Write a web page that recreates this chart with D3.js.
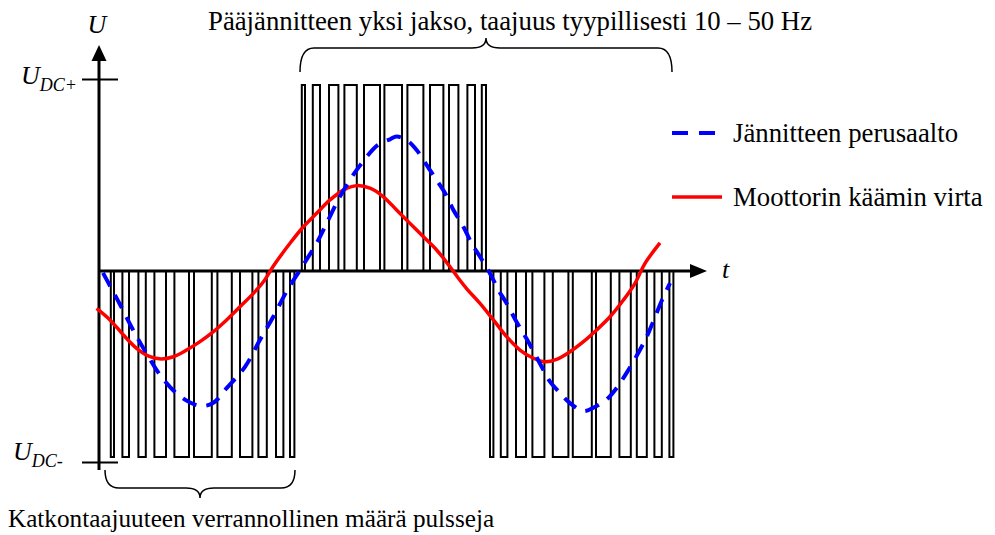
<!DOCTYPE html>
<html>
<head>
<meta charset="utf-8">
<script src="https://cdn.jsdelivr.net/npm/d3@7"></script>
<style>
  html, body { margin: 0; padding: 0; background: #fff; }
  svg { display: block; }
  text { font-family: "Liberation Serif", "Times New Roman", serif; fill: #000; }
</style>
</head>
<body>
<svg id="chart" width="995" height="535"></svg>
<script>
// Time in ms, voltage in % of U_DC.

// PWM pulses: switch-on time, switch-off time and level (+1 = U_DC+, -1 = U_DC-)
const pulseOn = [
  0.54, 1.12, 1.92, 2.72, 3.72, 4.70, 5.87, 7.00, 7.92, 8.80, 9.50,
  10.09, 10.64, 11.45, 12.22, 13.20, 14.22, 15.37, 16.50, 17.45, 18.37, 19.09,
  19.50, 20.04, 20.80, 21.62, 22.64, 23.64, 24.80, 25.97, 26.84, 27.72, 28.47
];
const pulseOff = [
  0.70, 1.45, 2.29, 3.30, 4.45, 5.59, 6.59, 7.62, 8.34, 9.17, 9.72,
  10.25, 11.00, 11.92, 12.84, 14.00, 15.10, 16.17, 17.17, 17.92, 18.75, 19.30,
  19.67, 20.37, 21.30, 22.22, 23.42, 24.59, 25.54, 26.54, 27.34, 28.09, 28.67
];
const pulseLevel = [
  -1, -1, -1, -1, -1, -1, -1, -1, -1, -1, -1,
   1,  1,  1,  1,  1,  1,  1,  1,  1,  1,  1,
  -1, -1, -1, -1, -1, -1, -1, -1, -1, -1, -1
];

// Fundamental of the voltage (blue, dashed)
const fundT = [0.15, 0.6, 1.0, 1.67, 2.25, 3.08, 4.08, 5.0, 5.65, 6.33, 7.25, 8.0, 8.67, 9.33, 10.0,
  10.42, 10.83, 11.33, 12.0, 12.92, 13.92, 14.5, 14.83, 15.33, 15.83, 16.33, 16.83, 17.25, 17.67,
  18.17, 18.58, 19.0, 19.5, 19.92, 20.33, 20.83, 21.33, 22.17, 22.5, 23.0, 23.5, 24.17, 24.67,
  25.33, 25.83, 26.33, 26.83, 27.33, 27.67, 28.08, 28.5];
const fundU = [-1, -10, -18, -32, -43, -57, -68, -72.5, -71, -63, -51.5, -37, -24.5, -11, 0.5,
  7.7, 14.9, 25.6, 40, 55.6, 68, 70.8, 72.3, 70.4, 65.1, 57, 48.9, 41.9, 32.8,
  23.8, 14.9, 7.7, -1.3, -10.2, -17.4, -27.4, -36.4, -53.2, -59.5, -65.6, -71, -75.3, -73.5,
  -69.1, -62.9, -54.8, -45.7, -35.5, -26.9, -16.1, -6.5];

// Motor winding current (red)
const currT = [-0.17, 0.5, 1.17, 1.83, 2.5, 3.08, 3.67, 4.33, 5.0, 5.67, 6.33, 7.0, 7.67, 8.17, 8.67,
  9.5, 10.17, 10.83, 11.5, 12.17, 12.83, 13.5, 14.17, 14.83, 15.5, 16.17, 16.83, 17.5, 17.92,
  18.35, 19.0, 19.67, 20.33, 21.0, 21.67, 22.25, 22.83, 23.5, 24.17, 24.83, 25.5, 26.17, 26.75,
  27.25, 28.0];
const currI = [-20.1, -26.3, -34.4, -41.6, -46.1, -47.3, -46.1, -42.5, -38.0, -32.6, -26.3, -19.2, -12.0, -5.8, 2.7,
  14.9, 23.8, 31.0, 38.2, 43.5, 45.9, 44.5, 39.9, 32.8, 25.6, 18.4, 11.3, 2.3, -3.9,
  -9.7, -17.4, -26.3, -35.3, -42.5, -46.9, -48.8, -47.5, -43.4, -38.0, -31.7, -24.6, -15.6, -6.6,
  4.1, 15.1];

// Voltage levels marked on the U axis
const levelValues = [103, -103];
const levelNames = ["DC+", "DC-"];

// Legend entries
const legendNames = ["Jännitteen perusaalto", "Moottorin käämin virta"];
const legendColors = ["#0000ff", "#ff0000"];

// Braces: time ranges they span
const braceTop = [10.0, 28.6];
const braceBottom = [0.25, 9.75];

const titleText = "Pääjännitteen yksi jakso, taajuus tyypillisesti 10 – 50 Hz";
const bottomText = "Katkontaajuuteen verrannollinen määrä pulsseja";

const svg = d3.select("#chart");
const x = d3.scaleLinear().domain([0, 31]).range([100, 720]);
const y = d3.scaleLinear().domain([-100, 100]).range([457, 85]);

const x0 = x(0) - 1, y0 = y(0);

// Axes with arrow heads
svg.append("line").attr("x1", x0).attr("x2", x0).attr("y1", 470).attr("y2", 58)
  .attr("stroke", "#000").attr("stroke-width", 3);
svg.append("path").attr("d", `M${x0},45 L${x0 - 7.5},61 L${x0 + 7.5},61 Z`).attr("fill", "#000");
svg.append("line").attr("x1", x0).attr("x2", 692).attr("y1", y0).attr("y2", y0)
  .attr("stroke", "#000").attr("stroke-width", 3);
svg.append("path").attr("d", `M707,${y0} L690,${y0 - 7} L690,${y0 + 7} Z`).attr("fill", "#000");

// Level ticks and labels
levelValues.forEach((v, i) => {
  const yy = y(v);
  svg.append("line").attr("x1", 82).attr("x2", 118).attr("y1", yy).attr("y2", yy)
    .attr("stroke", "#000").attr("stroke-width", 2);
  const t = svg.append("text").attr("x", i === 0 ? 21 : 13).attr("y", yy + (i === 0 ? 5 : -3))
    .style("font-style", "italic").style("font-size", "26px");
  t.append("tspan").text("U");
  t.append("tspan").attr("dy", 7).style("font-size", "18px").text(levelNames[i]);
});

// Axis names
svg.append("text").attr("x", 97).attr("y", 33).attr("text-anchor", "middle")
  .style("font-style", "italic").style("font-size", "26px").text("U");
svg.append("text").attr("x", 722).attr("y", 278)
  .style("font-style", "italic").style("font-size", "26px").text("t");

// PWM waveform as one stepped path
let d = `M${x(0)},${y0}`;
pulseOn.forEach((on, i) => {
  const lv = y(pulseLevel[i] * 100);
  d += `L${x(on)},${y0}L${x(on)},${lv}L${x(pulseOff[i])},${lv}L${x(pulseOff[i])},${y0}`;
});
svg.append("path").attr("d", d).attr("fill", "none").attr("stroke", "#000")
  .attr("stroke-width", 2).attr("stroke-linejoin", "miter");

// Current and fundamental curves
const line = d3.line().x(p => x(p[0])).y(p => y(p[1])).curve(d3.curveCatmullRom);
svg.append("path").attr("d", line(currT.map((t, i) => [t, currI[i]])))
  .attr("fill", "none").attr("stroke", legendColors[1]).attr("stroke-width", 3.5);
svg.append("path").attr("d", line(fundT.map((t, i) => [t, fundU[i]])))
  .attr("fill", "none").attr("stroke", legendColors[0]).attr("stroke-width", 4)
  .attr("stroke-dasharray", "15,10");

// Curly brace between xa and xb, tip pointing up (dir=-1) or down (dir=1)
function brace(xa, xb, yEdge, depth, dir) {
  const xm = (xa + xb) / 2, r = 14;
  const yMid = yEdge + dir * (depth - 10);
  const yTip = yEdge + dir * depth;
  return `M${xa},${yEdge} Q${xa},${yMid} ${xa + r},${yMid} L${xm - r},${yMid} Q${xm},${yMid} ${xm},${yTip}` +
         ` Q${xm},${yMid} ${xm + r},${yMid} L${xb - r},${yMid} Q${xb},${yMid} ${xb},${yEdge}`;
}
svg.append("path").attr("d", brace(x(braceTop[0]), x(braceTop[1]), 72, 34, -1))
  .attr("fill", "none").attr("stroke", "#000").attr("stroke-width", 1.5);
svg.append("path").attr("d", brace(x(braceBottom[0]), x(braceBottom[1]), 470, 28, 1))
  .attr("fill", "none").attr("stroke", "#000").attr("stroke-width", 1.5);

// Annotation texts
svg.append("text").attr("x", 208).attr("y", 30).style("font-size", "26.75px").text(titleText);
svg.append("text").attr("x", 8).attr("y", 527).style("font-size", "25.2px").text(bottomText);

// Legend
const legY = [133, 197];
svg.append("line").attr("x1", 672).attr("x2", 716).attr("y1", legY[0]).attr("y2", legY[0])
  .attr("stroke", legendColors[0]).attr("stroke-width", 4).attr("stroke-dasharray", "16,11");
svg.append("line").attr("x1", 672).attr("x2", 722).attr("y1", legY[1]).attr("y2", legY[1])
  .attr("stroke", legendColors[1]).attr("stroke-width", 3.5);
legendNames.forEach((n, i) => {
  svg.append("text").attr("x", 733).attr("y", legY[i] + 9).style("font-size", "26.75px").text(n);
});
</script>
</body>
</html>
